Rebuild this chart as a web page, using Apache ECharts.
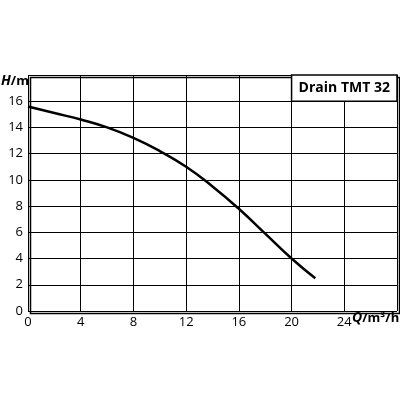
<!DOCTYPE html><html><head><meta charset="utf-8">
<script src="https://cdn.jsdelivr.net/npm/echarts@6/dist/echarts.min.js"></script>
<style>html,body{margin:0;background:#fff}#c{width:400px;height:400px}</style></head><body><div id="c"></div>
<script>
const flow = [0, 2, 4, 6, 8, 10, 12, 14, 16, 18, 20, 21.8];
const head = [15.6, 15.1, 14.6, 14.0, 13.2, 12.2, 11.0, 9.5, 7.8, 5.9, 4.0, 2.5];
const title = 'Drain TMT 32';
const F = 'Open Sans';
const chart = echarts.init(document.getElementById('c'));
chart.setOption({
  animation: false,
  grid: {left: 28, right: 3, top: 75, bottom: 89},
  xAxis: {type: 'value', min: 0, max: 28, interval: 4,
    axisLine: {show: false}, axisTick: {show: false},
    splitLine: {lineStyle: {color: '#000', width: 1}},
    axisLabel: {color: '#000', fontFamily: F, fontSize: 13, margin: 5,
      formatter: v => v >= 28 ? '' : String(v)}},
  yAxis: {type: 'value', min: 0, max: 18, interval: 2,
    axisLine: {show: false}, axisTick: {show: false},
    splitLine: {lineStyle: {color: '#000', width: 1}},
    axisLabel: {color: '#000', fontFamily: F, fontSize: 13, margin: 5,
      formatter: v => v >= 18 ? '' : String(v)}},
  graphic: [
    {type: 'rect', left: 28, top: 75, shape: {width: 369, height: 236}, style: {fill: 'none', stroke: '#000', lineWidth: 1.5}},
    {type: 'text', left: 352, top: 311, style: {text: '{q|Q}/m³/h', fill: '#000', font: 'bold 13px Open Sans',
      rich: {q: {fontStyle: 'italic', fontWeight: 'bold', fontSize: 14, fontFamily: F}}}},
    {type: 'text', left: 1, top: 74, style: {text: '{q|H}/m', fill: '#000', font: 'bold 13px Open Sans',
      rich: {q: {fontStyle: 'italic', fontWeight: 'bold', fontSize: 14, fontFamily: F}}}}
  ],
  series: [{type: 'line', data: flow.map((q, i) => [q, head[i]]), smooth: true, symbol: 'none',
    lineStyle: {color: '#000', width: 2.5},
    markArea: {silent: true, itemStyle: {color: '#fff', borderColor: '#000', borderWidth: 1.5},
      label: {show: true, position: 'inside', color: '#000', fontFamily: F, fontWeight: 'bold', fontSize: 14},
      data: [[{coord: [20, 16], name: title}, {coord: [28, 18]}]]}}]
});
</script></body></html>
